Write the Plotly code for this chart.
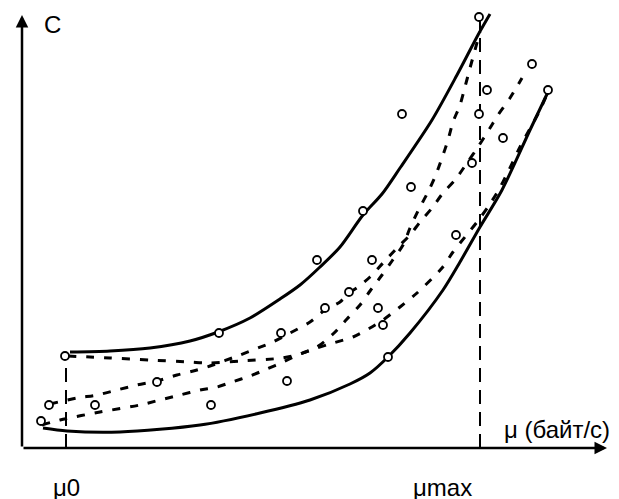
import plotly.graph_objects as go

# Schematic units: mu (horizontal), C (vertical); origin at the axes' crossing.
mu0 = 44
mu_max = 458
C_at_mu0 = 92
C_at_mumax = 431

# Upper solid envelope
upper_mu = [48, 88, 128, 168, 196, 228, 258, 278, 298, 318, 341, 360, 378, 410, 435, 456, 468]
upper_C = [96, 97, 100, 107, 116, 130, 149, 163, 181, 201, 233, 254, 280, 328, 373, 413, 434]

# Lower solid envelope
lower_mu = [21, 45, 98, 178, 238, 288, 328, 348, 366, 388, 421, 438, 458, 480, 508, 526]
lower_C = [20, 17, 16, 23, 35, 48, 64, 75, 91, 115, 158, 186, 221, 258, 318, 356]

# Dashed curve A (flat from mu0, then steep to mu_max)
dashA_mu = [46, 88, 128, 168, 185, 218, 260, 278, 295, 311, 325, 338, 348, 360, 370, 381,
            388, 396, 405, 413, 420, 426, 431, 438, 443, 448, 453, 458]
dashA_C = [92, 90, 88, 86, 85, 87, 90, 94, 101, 114, 129, 143, 157, 173, 187, 203,
           220, 237, 254, 271, 290, 308, 326, 343, 361, 380, 398, 416]

# Dashed curve B (middle)
dashB_mu = [28, 55, 75, 95, 115, 135, 155, 175, 188, 218, 236, 251, 268, 288, 303, 318, 327,
            336, 348, 361, 375, 388, 398, 410, 421, 433, 445, 456, 468, 476, 488, 500]
dashB_C = [44, 50, 53, 58, 63, 67, 73, 78, 82, 93, 100, 106, 115, 126, 138, 146, 155,
           161, 171, 185, 200, 213, 226, 240, 255, 268, 285, 301, 320, 333, 350, 370]

# Dashed curve C (lower)
dashC_mu = [20, 38, 78, 118, 138, 158, 178, 195, 210, 228, 245, 261, 278, 295, 311, 331, 348,
            361, 378, 395, 420, 431, 443, 455, 466, 476, 485, 498, 510, 518, 526]
dashC_C = [23, 28, 36, 43, 48, 53, 58, 61, 66, 72, 79, 86, 94, 100, 105, 111, 120,
           128, 141, 155, 180, 196, 211, 226, 241, 257, 274, 301, 323, 338, 356]

# Observation points
pts_mu = [19, 27, 43, 73, 135, 189, 197, 259, 265, 295, 303, 327, 341, 350, 356, 361, 366,
          380, 389, 434, 450, 457, 457, 465, 481, 510, 526]
pts_C = [27, 43, 92, 43, 66, 43, 115, 115, 67, 188, 140, 156, 237, 188, 140, 123, 91,
         334, 261, 213, 285, 431, 334, 358, 310, 384, 358]

y_label = "C"
x_label = "μ (байт/с)"
tick_labels = ["μ0", "μmax"]
tick_pos = [mu0, 420]

FONT = "Arial, 'Liberation Sans', sans-serif"
fig = go.Figure()

solid = dict(color="black", width=3)
dashed = dict(color="black", width=3, dash="8px,10px")
vdash = dict(color="black", width=2, dash="14px,8px")

fig.add_trace(go.Scatter(x=[mu0, mu0], y=[0, C_at_mu0], mode="lines", line=vdash))
fig.add_trace(go.Scatter(x=[mu_max, mu_max], y=[0, C_at_mumax], mode="lines", line=vdash))
for xs, ys, ln in [(upper_mu, upper_C, solid), (lower_mu, lower_C, solid),
                   (dashA_mu, dashA_C, dashed), (dashB_mu, dashB_C, dashed),
                   (dashC_mu, dashC_C, dashed)]:
    fig.add_trace(go.Scatter(x=xs, y=ys, mode="lines", line=dict(**ln, shape="spline", smoothing=0.8)))

fig.add_trace(go.Scatter(x=pts_mu, y=pts_C, mode="markers",
                         marker=dict(symbol="circle", size=8, color="white",
                                     line=dict(color="black", width=1.8))))

# Axes with arrows
for (hx, hy) in [(585, 0), (0, 433)]:
    fig.add_annotation(x=hx, y=hy, ax=0, ay=0, axref="x", ayref="y", xref="x", yref="y",
                       text="", showarrow=True, arrowhead=2, arrowsize=1, arrowwidth=2.5,
                       arrowcolor="black", standoff=0, startstandoff=0)

fig.add_annotation(x=20, y=424, text=y_label, showarrow=False, xanchor="left",
                   font=dict(family=FONT, size=24, color="black"))
fig.add_annotation(x=480, y=19, text=x_label, showarrow=False, xanchor="left",
                   font=dict(family=FONT, size=24, color="black"))
for t, p in zip(tick_labels, tick_pos):
    fig.add_annotation(x=p, y=-39, text=t, showarrow=False, xanchor="center",
                       font=dict(family=FONT, size=24, color="black"))

# The page body has an 8px margin, so the figure is 8px smaller and its ranges shifted.
fig.update_layout(
    width=611, height=491, margin=dict(l=0, r=0, t=0, b=0),
    paper_bgcolor="white", plot_bgcolor="white", showlegend=False,
    xaxis=dict(range=[-14, 597], visible=False, fixedrange=True),
    yaxis=dict(range=[-51, 440], visible=False, fixedrange=True),
)
fig.write_html("out.html")
